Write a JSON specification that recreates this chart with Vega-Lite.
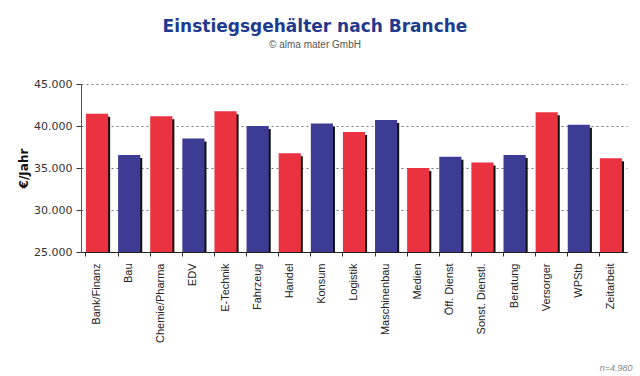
{
  "$schema": "https://vega.github.io/schema/vega-lite/v6.json",
  "width": 546,
  "height": 168,
  "autosize": {"type": "none"},
  "padding": {"left": 81, "top": 84, "right": 13, "bottom": 124},
  "background": "white",
  "title": {
    "text": "Einstiegsgehälter nach Branche",
    "subtitle": "© alma mater GmbH",
    "anchor": "middle",
    "dx": -39,
    "offset": 27,
    "font": "DejaVu Sans",
    "fontSize": 17,
    "fontWeight": "bold",
    "color": "#1f3b8f",
    "subtitleFont": "Liberation Sans",
    "subtitleFontSize": 10,
    "subtitleColor": "#555555",
    "subtitlePadding": 4
  },
  "config": {
    "view": {"stroke": null},
    "axis": {"domainColor": "#333333", "tickColor": "#333333"}
  },
  "data": {
    "values": [
      {"branche": "Bank/Finanz", "gehalt": 41450, "gruppe": "a"},
      {"branche": "Bau", "gehalt": 36550, "gruppe": "b"},
      {"branche": "Chemie/Pharma", "gehalt": 41150, "gruppe": "a"},
      {"branche": "EDV", "gehalt": 38500, "gruppe": "b"},
      {"branche": "E-Technik", "gehalt": 41750, "gruppe": "a"},
      {"branche": "Fahrzeug", "gehalt": 40000, "gruppe": "b"},
      {"branche": "Handel", "gehalt": 36750, "gruppe": "a"},
      {"branche": "Konsum", "gehalt": 40300, "gruppe": "b"},
      {"branche": "Logistik", "gehalt": 39300, "gruppe": "a"},
      {"branche": "Maschinenbau", "gehalt": 40700, "gruppe": "b"},
      {"branche": "Medien", "gehalt": 35000, "gruppe": "a"},
      {"branche": "Öff. Dienst", "gehalt": 36350, "gruppe": "b"},
      {"branche": "Sonst. Dienstl.", "gehalt": 35650, "gruppe": "a"},
      {"branche": "Beratung", "gehalt": 36550, "gruppe": "b"},
      {"branche": "Versorger", "gehalt": 41650, "gruppe": "a"},
      {"branche": "WPStb", "gehalt": 40150, "gruppe": "b"},
      {"branche": "Zeitarbeit", "gehalt": 36150, "gruppe": "a"}
    ]
  },
  "encoding": {
    "x": {
      "field": "branche",
      "type": "nominal",
      "sort": null,
      "scale": {"paddingInner": 0.31, "paddingOuter": 0.155},
      "axis": {
        "title": "n=4.980",
        "titleAnchor": "end",
        "titleAlign": "right",
        "titleX": 551,
        "titleY": 118,
        "titleBaseline": "alphabetic",
        "titleFont": "Liberation Sans",
        "titleFontSize": 9,
        "titleFontStyle": "italic",
        "titleFontWeight": "normal",
        "titleColor": "#888888",
        "labelAngle": -90,
        "labelAlign": "right",
        "labelBaseline": "middle",
        "labelFont": "Liberation Sans",
        "labelFontSize": 11,
        "labelColor": "#222222",
        "labelPadding": 7,
        "tickSize": 4,
        "bandPosition": 0,
        "domainColor": "#222222"
      }
    },
    "y": {
      "field": "gehalt",
      "type": "quantitative",
      "scale": {"domain": [25000, 45000], "zero": false, "nice": false},
      "axis": {
        "title": "€/Jahr",
        "titleFont": "DejaVu Sans",
        "titleFontSize": 12,
        "titleFontWeight": "bold",
        "titleColor": "#111111",
        "titlePadding": 3,
        "values": [25000, 30000, 35000, 40000, 45000],
        "labelExpr": "replace(format(datum.value, ',.0f'), ',', '.')",
        "labelFont": "DejaVu Sans",
        "labelFontSize": 11,
        "labelColor": "#333333",
        "labelPadding": 4,
        "tickSize": 5,
        "grid": true,
        "gridColor": "#777777",
        "gridDash": [2, 3],
        "gridWidth": 1,
        "domainColor": "#555555"
      }
    }
  },
  "layer": [
    {
      "mark": {"type": "bar", "color": "#111111", "xOffset": 2, "yOffset": 3},
      "encoding": {"y2": {"datum": 25000}}
    },
    {
      "mark": {"type": "bar"},
      "encoding": {
        "y2": {"datum": 25000},
        "color": {
          "field": "gruppe",
          "type": "nominal",
          "scale": {"domain": ["a", "b"], "range": ["#ea3240", "#3c3c94"]},
          "legend": null
        }
      }
    }
  ]
}
